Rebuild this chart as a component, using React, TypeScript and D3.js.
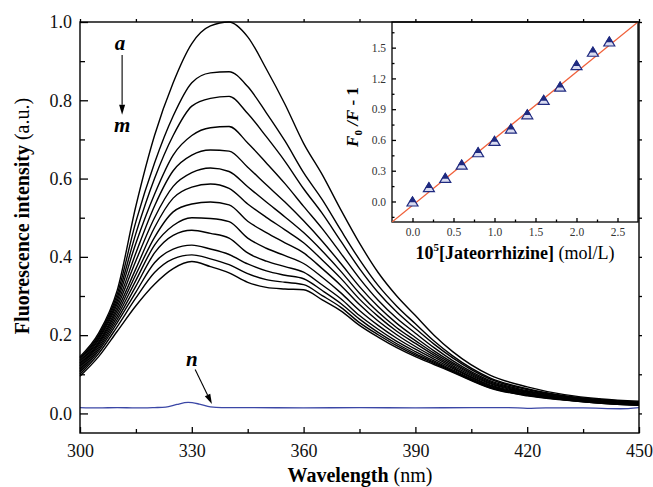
import React, { useRef, useEffect } from "react";
import * as d3 from "d3";

// emission spectra a..m (wavelength in nm, intensity in a.u.)
const wavelengths = [300, 305, 310, 315, 320, 325, 330, 335, 340, 345, 350, 355, 360, 365, 370, 375, 380, 385, 390, 395, 400, 410, 420, 430, 440, 450];

const curveA = [0.145, 0.205, 0.315, 0.53, 0.71, 0.845, 0.945, 0.99, 1.0, 0.962, 0.88, 0.79, 0.69, 0.61, 0.52, 0.435, 0.36, 0.3, 0.25, 0.2, 0.158, 0.098, 0.068, 0.048, 0.037, 0.031];
const curveB = [0.141, 0.2, 0.305, 0.49, 0.64, 0.76, 0.845, 0.87, 0.873, 0.835, 0.768, 0.696, 0.615, 0.546, 0.468, 0.393, 0.327, 0.274, 0.229, 0.185, 0.147, 0.091, 0.063, 0.045, 0.035, 0.029];
const curveC = [0.137, 0.196, 0.296, 0.46, 0.6, 0.71, 0.785, 0.805, 0.81, 0.766, 0.707, 0.644, 0.574, 0.511, 0.44, 0.37, 0.309, 0.259, 0.217, 0.177, 0.142, 0.088, 0.061, 0.044, 0.034, 0.028];
const curveD = [0.133, 0.192, 0.288, 0.435, 0.56, 0.66, 0.71, 0.73, 0.733, 0.691, 0.64, 0.587, 0.529, 0.472, 0.409, 0.345, 0.289, 0.243, 0.205, 0.168, 0.135, 0.084, 0.058, 0.042, 0.032, 0.027];
const curveE = [0.129, 0.188, 0.28, 0.41, 0.53, 0.62, 0.66, 0.673, 0.67, 0.629, 0.584, 0.54, 0.492, 0.44, 0.383, 0.324, 0.273, 0.23, 0.194, 0.16, 0.13, 0.081, 0.056, 0.041, 0.031, 0.026];
const curveF = [0.125, 0.183, 0.272, 0.39, 0.5, 0.58, 0.615, 0.627, 0.618, 0.579, 0.54, 0.502, 0.462, 0.415, 0.363, 0.307, 0.259, 0.219, 0.186, 0.154, 0.126, 0.078, 0.054, 0.039, 0.03, 0.025];
const curveG = [0.121, 0.179, 0.264, 0.37, 0.475, 0.55, 0.578, 0.586, 0.575, 0.535, 0.501, 0.469, 0.436, 0.392, 0.345, 0.292, 0.248, 0.21, 0.179, 0.149, 0.122, 0.076, 0.052, 0.038, 0.03, 0.024];
const curveH = [0.117, 0.175, 0.256, 0.355, 0.45, 0.515, 0.535, 0.54, 0.533, 0.491, 0.462, 0.436, 0.41, 0.37, 0.327, 0.278, 0.236, 0.201, 0.171, 0.144, 0.118, 0.073, 0.051, 0.037, 0.029, 0.024];
const curveI = [0.113, 0.17, 0.248, 0.34, 0.43, 0.48, 0.5, 0.498, 0.49, 0.448, 0.422, 0.403, 0.383, 0.348, 0.308, 0.263, 0.225, 0.192, 0.164, 0.139, 0.115, 0.071, 0.049, 0.037, 0.028, 0.023];
const curveJ = [0.109, 0.165, 0.24, 0.325, 0.41, 0.455, 0.468, 0.46, 0.448, 0.41, 0.389, 0.375, 0.361, 0.328, 0.293, 0.25, 0.215, 0.184, 0.158, 0.134, 0.111, 0.069, 0.048, 0.036, 0.027, 0.022];
const curveK = [0.105, 0.16, 0.232, 0.31, 0.385, 0.42, 0.43, 0.42, 0.406, 0.382, 0.364, 0.353, 0.344, 0.314, 0.281, 0.241, 0.207, 0.178, 0.153, 0.131, 0.109, 0.067, 0.047, 0.035, 0.027, 0.022];
const curveL = [0.1, 0.153, 0.222, 0.295, 0.36, 0.395, 0.405, 0.395, 0.38, 0.357, 0.342, 0.335, 0.329, 0.301, 0.271, 0.232, 0.201, 0.173, 0.149, 0.128, 0.107, 0.066, 0.046, 0.035, 0.026, 0.021];
const curveM = [0.095, 0.145, 0.21, 0.275, 0.33, 0.37, 0.388, 0.375, 0.359, 0.335, 0.322, 0.318, 0.316, 0.29, 0.262, 0.225, 0.195, 0.168, 0.145, 0.125, 0.105, 0.065, 0.045, 0.034, 0.026, 0.021];

const spectra = [curveA, curveB, curveC, curveD, curveE, curveF, curveG, curveH, curveI, curveJ, curveK, curveL, curveM];

// curve n (blue)
const blankWavelengths = [300, 305, 310, 315, 320, 323, 326, 329, 332, 335, 338, 345, 360, 375, 390, 405, 415, 420, 425, 435, 445, 450];
const blankValues = [0.015, 0.014, 0.015, 0.014, 0.015, 0.016, 0.023, 0.028, 0.024, 0.017, 0.015, 0.015, 0.014, 0.015, 0.014, 0.015, 0.015, 0.013, 0.014, 0.014, 0.012, 0.015];

// Stern-Volmer inset
const conc = [0, 0.2, 0.4, 0.6, 0.8, 1.0, 1.2, 1.4, 1.6, 1.8, 2.0, 2.2, 2.4];
const quench = [0.0, 0.14, 0.23, 0.36, 0.48, 0.59, 0.71, 0.85, 0.99, 1.12, 1.33, 1.46, 1.56];
const fitSlope = 0.65;
const fitIntercept = -0.0375;

const xMajor = [300, 330, 360, 390, 420, 450];
const xMinor = [315, 345, 375, 405, 435];
const xMirror = [300, 315, 330, 345, 360, 375, 390, 405, 420, 435, 450];
const yMajor = [0, 0.2, 0.4, 0.6, 0.8, 1.0];
const yMinor = [0.1, 0.3, 0.5, 0.7, 0.9];
const yMirror = [0, 0.1, 0.2, 0.3, 0.4, 0.5, 0.6, 0.7, 0.8, 0.9, 1.0];
const insetXMajor = [0, 0.5, 1.0, 1.5, 2.0, 2.5];
const insetXMinor = [0.25, 0.75, 1.25, 1.75, 2.25];
const insetYMajor = [0, 0.3, 0.6, 0.9, 1.2, 1.5];
const insetYMinor = [-0.15, 0.15, 0.45, 0.75, 1.05, 1.35, 1.65];

// annotation anchors in data units
const labelA = [310.7, 0.946];
const labelM = [311.3, 0.737];
const arrowAM = [[311.3, 0.916], [311.3, 0.763]];
const labelN = [330, 0.14];
const arrowN = [[330.9, 0.112], [335.4, 0.024]];

const serif = "'Liberation Serif', 'Times New Roman', Times, serif";

const App = () => {
  const svgRef = useRef<SVGSVGElement>(null);

  useEffect(() => {
    const svg = d3.select(svgRef.current);
    svg.selectAll("*").remove();

    const x = d3.scaleLinear().domain([300, 450]).range([80, 639]);
    const y = d3.scaleLinear().domain([-0.05, 1.0]).range([433, 22]);

    const line = d3.line<number>()
      .x((d, i) => x(wavelengths[i]))
      .y(d => y(d))
      .curve(d3.curveMonotoneX);

    svg.append("g")
      .selectAll("path")
      .data(spectra)
      .enter()
      .append("path")
      .attr("d", d => line(d))
      .attr("fill", "none")
      .attr("stroke", "#000")
      .attr("stroke-width", 1.4);

    const blankLine = d3.line<number>()
      .x((d, i) => x(blankWavelengths[i]))
      .y(d => y(d))
      .curve(d3.curveMonotoneX);

    svg.append("path")
      .attr("d", blankLine(blankValues))
      .attr("fill", "none")
      .attr("stroke", "#3b47a6")
      .attr("stroke-width", 1.3);

    // arrows + letters
    const arrow = (p0, p1) => {
      const x0 = x(p0[0]), y0 = y(p0[1]), x1 = x(p1[0]), y1 = y(p1[1]);
      const ang = Math.atan2(y1 - y0, x1 - x0);
      const len = 10, hw = 3;
      const bx = x1 - len * Math.cos(ang), by = y1 - len * Math.sin(ang);
      svg.append("line")
        .attr("x1", x0).attr("y1", y0).attr("x2", bx).attr("y2", by)
        .attr("stroke", "#000").attr("stroke-width", 1.1);
      svg.append("path")
        .attr("d", `M${x1},${y1}L${bx - hw * Math.sin(ang)},${by + hw * Math.cos(ang)}L${bx + hw * Math.sin(ang)},${by - hw * Math.cos(ang)}Z`)
        .attr("fill", "#000");
    };
    arrow(arrowAM[0], arrowAM[1]);
    arrow(arrowN[0], arrowN[1]);

    [[labelA, "a"], [labelM, "m"], [labelN, "n"]].forEach(([p, t]) => {
      svg.append("text")
        .attr("x", x(p[0]))
        .attr("y", y(p[1]))
        .attr("text-anchor", "middle")
        .attr("dominant-baseline", "central")
        .attr("font-family", serif)
        .attr("font-size", 21)
        .attr("font-weight", "bold")
        .attr("font-style", "italic")
        .text(t);
    });

    const styleAxis = (g, size) => {
      g.attr("font-family", serif).attr("font-size", size);
      g.selectAll(".domain").remove();
      g.selectAll("line").attr("stroke", "#000").attr("stroke-width", 1.3);
      g.selectAll("text").attr("fill", "#111");
    };

    // ---- inset ----
    const ix = d3.scaleLinear().domain([-0.25, 2.75]).range([392, 638]);
    const iy = d3.scaleLinear().domain([-0.2, 1.75]).range([222, 22]);

    svg.append("rect")
      .attr("x", 392).attr("y", 22).attr("width", 246).attr("height", 200)
      .attr("fill", "#fff").attr("stroke", "#000").attr("stroke-width", 1.3);

    svg.append("clipPath").attr("id", "insetClip")
      .append("rect").attr("x", 392).attr("y", 22).attr("width", 246).attr("height", 200);

    svg.append("line")
      .attr("clip-path", "url(#insetClip)")
      .attr("x1", ix(-0.25)).attr("y1", iy(fitSlope * -0.25 + fitIntercept))
      .attr("x2", ix(2.75)).attr("y2", iy(fitSlope * 2.75 + fitIntercept))
      .attr("stroke", "#f0603a").attr("stroke-width", 1.3);

    const pts = svg.append("g");
    conc.forEach((c, i) => {
      const cx = ix(c), cy = iy(quench[i]);
      pts.append("path")
        .attr("d", `M${cx - 5.5},${cy + 4.5}L${cx + 5.5},${cy + 4.5}L${cx},${cy - 4.5}Z`)
        .attr("fill", "#d9dbf0").attr("stroke", "#1f2a80").attr("stroke-width", 1.2);
      pts.append("path")
        .attr("d", `M${cx - 3.8},${cy + 0.8}L${cx + 3.8},${cy + 0.8}L${cx},${cy - 5.5}Z`)
        .attr("fill", "#1f2a80");
    });

    const ixAxis = svg.append("g").attr("transform", "translate(0,222)")
      .call(d3.axisBottom(ix).tickValues(insetXMajor).tickSize(-4).tickPadding(6).tickFormat(d3.format(".1f")));
    styleAxis(ixAxis, 11.5);
    ixAxis.selectAll("text").attr("fill", "#333");
    const ixMinor = svg.append("g").attr("transform", "translate(0,222)")
      .call(d3.axisBottom(ix).tickValues(insetXMinor).tickSize(-2.5).tickFormat(() => ""));
    styleAxis(ixMinor, 11.5);

    const iyAxis = svg.append("g").attr("transform", "translate(392,0)")
      .call(d3.axisLeft(iy).tickValues(insetYMajor).tickSize(-4).tickPadding(6).tickFormat(d3.format(".1f")));
    styleAxis(iyAxis, 11.5);
    iyAxis.selectAll("text").attr("fill", "#333");
    const iyMinor = svg.append("g").attr("transform", "translate(392,0)")
      .call(d3.axisLeft(iy).tickValues(insetYMinor).tickSize(-2.5).tickFormat(() => ""));
    styleAxis(iyMinor, 11.5);

    // inset titles
    const itx = svg.append("text")
      .attr("x", 515).attr("y", 259)
      .attr("text-anchor", "middle")
      .attr("font-family", serif)
      .attr("font-size", 18);
    itx.append("tspan").attr("font-weight", "bold").text("10");
    itx.append("tspan").attr("font-weight", "bold").attr("font-size", 11).attr("dy", -8).text("5");
    itx.append("tspan").attr("font-weight", "bold").attr("dy", 8).text("[Jateorrhizine]");
    itx.append("tspan").text(" (mol/L)");

    const ity = svg.append("text")
      .attr("transform", "translate(358,117) rotate(-90)")
      .attr("text-anchor", "middle")
      .attr("font-family", serif)
      .attr("font-size", 17)
      .attr("font-weight", "bold");
    ity.append("tspan").attr("font-style", "italic").text("F");
    ity.append("tspan").attr("font-size", 11).attr("dy", 4).text("0");
    ity.append("tspan").attr("font-style", "italic").attr("dy", -4).text(" /F");
    ity.append("tspan").text(" - 1");

    // ---- main frame and axes ----
    svg.append("rect")
      .attr("x", 80).attr("y", 22).attr("width", 559).attr("height", 411)
      .attr("fill", "none").attr("stroke", "#000").attr("stroke-width", 1.4);

    const xAxis = svg.append("g").attr("transform", "translate(0,433)")
      .call(d3.axisBottom(x).tickValues(xMajor).tickSize(-6).tickPadding(11).tickFormat(d3.format("d")));
    styleAxis(xAxis, 18);
    const xMinorAxis = svg.append("g").attr("transform", "translate(0,433)")
      .call(d3.axisBottom(x).tickValues(xMinor).tickSize(-4).tickFormat(() => ""));
    styleAxis(xMinorAxis, 18);
    const xTop = svg.append("g").attr("transform", "translate(0,22)")
      .call(d3.axisTop(x).tickValues(xMirror).tickSize(3).tickFormat(() => ""));
    styleAxis(xTop, 18);

    const yAxis = svg.append("g").attr("transform", "translate(80,0)")
      .call(d3.axisLeft(y).tickValues(yMajor).tickSize(-8).tickPadding(8).tickFormat(d3.format(".1f")));
    styleAxis(yAxis, 18);
    const yMinorAxis = svg.append("g").attr("transform", "translate(80,0)")
      .call(d3.axisLeft(y).tickValues(yMinor).tickSize(-5).tickFormat(() => ""));
    styleAxis(yMinorAxis, 18);
    const yRight = svg.append("g").attr("transform", "translate(639,0)")
      .call(d3.axisRight(y).tickValues(yMirror).tickSize(3).tickFormat(() => ""));
    styleAxis(yRight, 18);

    // axis titles
    const tx = svg.append("text")
      .attr("x", 360).attr("y", 482)
      .attr("text-anchor", "middle")
      .attr("font-family", serif)
      .attr("font-size", 20);
    tx.append("tspan").attr("font-weight", "bold").text("Wavelength");
    tx.append("tspan").text(" (nm)");

    const ty = svg.append("text")
      .attr("transform", "translate(29,216) rotate(-90)")
      .attr("text-anchor", "middle")
      .attr("font-family", serif)
      .attr("font-size", 20);
    ty.append("tspan").attr("font-weight", "bold").text("Fluorescence intensity");
    ty.append("tspan").text(" (a.u.)");
  }, []);

  return (
    <svg
      ref={svgRef}
      width={653}
      height={487}
      style={{ position: "absolute", left: 0, top: 0, background: "#fff" }}
    />
  );
};

export default App;
